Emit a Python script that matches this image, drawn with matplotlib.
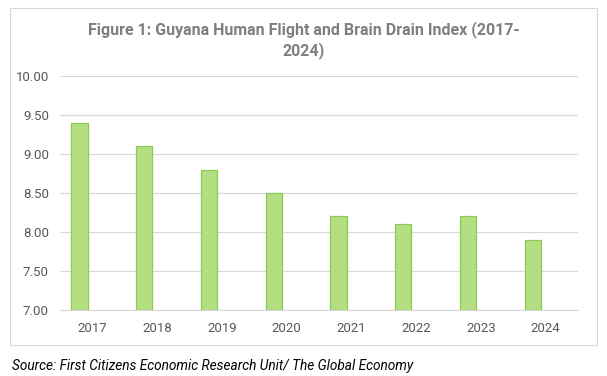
import matplotlib.pyplot as plt
import numpy as np
from matplotlib.patches import Rectangle

years = ["2017", "2018", "2019", "2020", "2021", "2022", "2023", "2024"]
index_values = [9.4, 9.1, 8.8, 8.5, 8.2, 8.1, 8.2, 7.9]
y_ticks = [7.0, 7.5, 8.0, 8.5, 9.0, 9.5, 10.0]

W, H = 607, 376
plt.rcParams["font.family"] = ["Roboto", "DejaVu Sans"]
fig = plt.figure(figsize=(W / 100, H / 100), dpi=100)

# outer chart border
fig.patches.append(Rectangle((10 / W, 1 - 345 / H), 587 / W, 337 / H, transform=fig.transFigure,
                             fill=False, edgecolor="#d9d9d9", linewidth=0.8))

ax = fig.add_axes([60 / W, 1 - 310 / H, 518 / W, 234 / H])
x = np.arange(len(years))
ax.bar(x - 0.2, [v - 7.0 for v in index_values], bottom=7.0, width=0.25,
       color="#b3de82", edgecolor="#8dc955", linewidth=0.9, zorder=3)

ax.set_xlim(-0.5, len(years) - 0.5)
ax.set_ylim(7.0, 10.0)
ax.set_yticks(y_ticks)
ax.set_yticklabels([f"{v:.2f}" for v in y_ticks])
ax.set_xticks(x)
ax.set_xticklabels(years)
ax.grid(axis="y", color="#d9d9d9", linewidth=0.9, zorder=0)
for side in ["top", "right", "left"]:
    ax.spines[side].set_visible(False)
ax.spines["bottom"].set_color("#d9d9d9")
ax.tick_params(length=0, colors="#595959", labelsize=9.5)
ax.tick_params(axis="x", pad=9)
ax.tick_params(axis="y", pad=8)

fig.text(0.5, 1 - 40 / H, "Figure 1: Guyana Human Flight and Brain Drain Index (2017-\n2024)",
         ha="center", va="center", fontsize=11.5, fontweight="bold", color="#7f7f7f",
         linespacing=1.3)
fig.text(12 / W, 1 - 366 / H, "Source: First Citizens Economic Research Unit/ The Global Economy",
         ha="left", va="center", fontsize=9.8, style="italic", color="#000000")

fig.savefig("out.png", dpi=100)
